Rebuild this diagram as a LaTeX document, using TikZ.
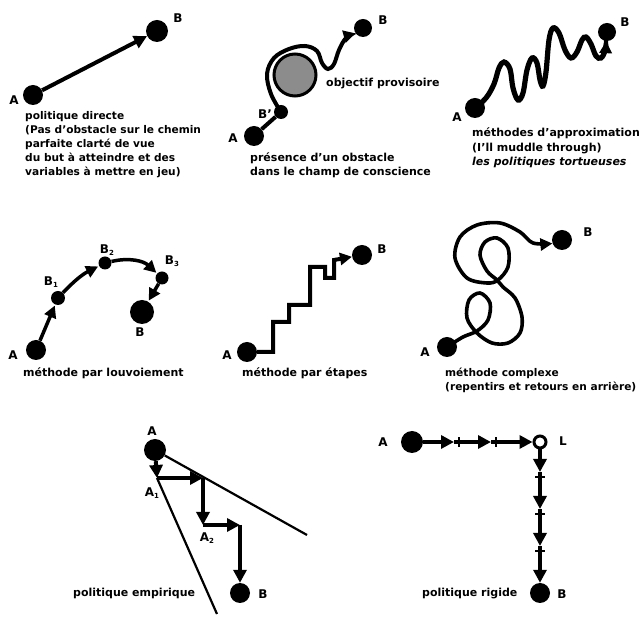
\documentclass[tikz,border=0pt]{standalone}
\usepackage{fontspec}
\setmainfont{DejaVu Sans}
\usetikzlibrary{arrows.meta,decorations.markings}
\newcommand\lsub[1]{\raisebox{-0.35ex}{\fontsize{7}{7}\selectfont #1}}
\begin{document}
\begin{tikzpicture}[x=1pt,y=-1pt,
 ball/.style={circle,fill=black,inner sep=0pt,minimum size=#1},
 txt/.style={anchor=base west,inner sep=0pt,font=\fontsize{11}{14}\selectfont\bfseries},
 smalltxt/.style={txt,font=\fontsize{10.6}{14}\selectfont\bfseries},
 lab/.style={inner sep=0pt,font=\fontsize{12}{12}\selectfont\bfseries},
 road/.style={line width=4pt},
 tip/.style={-{Triangle[length=12pt,width=12pt]}},
 bigtip/.style={-{Triangle[length=13pt,width=13pt]}},
 bartick/.style={line width=2.8pt}
]
\useasboundingbox (0,0) rectangle (641,617);

% ---------- panel 1: politique directe
\node[ball=20pt] (pA) at (33,95) {};
\node[ball=22pt] (pB) at (157,31) {};
\draw[road,bigtip] (pA) -- (pB);
\node[lab] (pAl) at (14,100) {A};
\node[lab] (pBl) at (178,18) {B};
\node[smalltxt] (t11) at (25,120) {politique directe};
\node[smalltxt] (t12) at (25,134) {(Pas d'obstacle sur le chemin};
\node[smalltxt] (t13) at (25,148) {parfaite clarté de vue};
\node[smalltxt] (t14) at (25,162) {du but à atteindre et des};
\node[smalltxt] (t15) at (25,176) {variables à mettre en jeu)};

% ---------- panel 2: obstacle
\node[ball=20pt] (qA) at (254,136) {};
\node[ball=14pt] (qBp) at (281,112) {};
\node[circle,draw=black,line width=3pt,fill=black!45,inner sep=0pt,minimum size=42pt] (qO) at (295,75) {};
\node[ball=18pt] (qB) at (363,28) {};
\draw[road] (qA) -- (qBp);
\draw[road,tip] plot[smooth,tension=0.6] coordinates {(qBp.center) (271,94) (267,74) (274,58) (289,49) (305,46) (317,51) (322,63) (328,69) (334,64) (339,50) (346,38) (qB.215)};
\node[lab] (qAl) at (233,138) {A};
\node[lab] (qBpl) at (265,114) {B'};
\node[lab] (qBl) at (383,20) {B};
\node[txt] (t21) at (326,87) {objectif provisoire};
\node[txt] (t22) at (250,162) {présence d'un obstacle};
\node[txt] (t23) at (250,176) {dans le champ de conscience};

% ---------- panel 3: wave
\node[ball=20pt] (rA) at (475,108) {};
\node[ball=18pt] (rB) at (607,32) {};
\draw[line width=5.2pt,tip] plot[smooth,tension=0.6] coordinates {(rA.center) (486,98) (494,84) (499,68) (504,62) (510,69) (513,88) (518,100) (523,93) (527,70) (532,58) (537,63) (540,80) (543,86) (546,72) (549,40) (553,28) (559,33) (565,50) (571,58) (577,52) (582,40) (586,37) (591,44) (596,56) (601,58) (605,51) (rB.265)};
\node[lab] (rAl) at (457,117) {A};
\node[lab] (rBl) at (625,22) {B};
\node[txt] (t31) at (472,137) {méthodes d'approximation};
\node[txt] (t32) at (472,151.5) {(I'll muddle through)};
\node[txt,font=\fontsize{11}{14}\selectfont\bfseries\itshape] (t33) at (472,166) {les politiques tortueuses};

% ---------- panel 4: louvoiement
\node[ball=20pt] (sA) at (36,350) {};
\node[ball=14pt] (sB1) at (58,298) {};
\node[ball=13pt] (sB2) at (105,263) {};
\node[ball=13pt] (sB3) at (162,278) {};
\node[ball=24pt] (sB) at (142,312) {};
\draw[line width=3.5pt,tip,shorten >=1pt] (sA) -- (sB1);
\draw[line width=3.5pt,tip,shorten >=1pt] (sB1) to[bend left=10] (sB2);
\draw[line width=3.5pt,tip,shorten >=1pt] (sB2) to[bend left=28] (sB3);
\draw[line width=3.5pt,tip,shorten >=1pt] (sB3) -- (sB);
\node[lab] (sAl) at (13,355) {A};
\node[lab] (sB1l) at (51,282) {B\lsub{1}};
\node[lab] (sB2l) at (107,250) {B\lsub{2}};
\node[lab] (sB3l) at (172,261) {B\lsub{3}};
\node[lab] (sBl) at (140,332) {B};
\node[txt] (t41) at (23,377) {méthode par louvoiement};

% ---------- panel 5: étapes
\node[ball=20pt] (uA) at (247,352) {};
\node[ball=20pt] (uB) at (362,255) {};
\draw[road,tip,line join=miter] (uA) -- (273,352) -- (273,322) -- (289,322) -- (289,305) -- (310,305) -- (310,267) -- (325,267) -- (325,278) -- (334,278) -- (334,260) -- (uB);
\node[lab] (uAl) at (227,355) {A};
\node[lab] (uBl) at (382,249) {B};
\node[txt] (t51) at (242,377) {méthode par étapes};

% ---------- panel 6: complexe
\node[ball=20pt] (vA) at (447,347) {};
\node[ball=20pt] (vB) at (562,240) {};
\draw[line width=3.6pt,tip] plot[smooth,tension=0.55] coordinates {(vA.center) (463,337) (477,331) (488,320) (490,303) (480,293) (469,300) (467,318) (477,333) (492,343) (508,343) (520,333) (522,317) (515,298) (503,287) (497,280) (487,271) (480,255) (485,242) (497,238) (508,248) (508,267) (498,280) (487,283) (467,278) (455,258) (460,237) (477,225) (500,223) (520,232) (533,243) (vB.200)};
\node[lab] (vAl) at (425,352) {A};
\node[lab] (vBl) at (588,232) {B};
\node[smalltxt] (t61) at (445,377) {méthode complexe};
\node[smalltxt] (t62) at (445,391) {(repentirs et retours en arrière)};

% ---------- panel 7: empirique
\node[ball=22pt] (wA) at (155,450) {};
\coordinate (wA1) at (157,478);
\coordinate (wc1) at (203,478);
\coordinate (wA2) at (203,525);
\coordinate (wc2) at (240,525);
\node[ball=20pt] (wB) at (240,593) {};
\coordinate (wR) at (307,535);
\coordinate (wL) at (217,614);
\draw[line width=2.2pt] (wA) -- (wR);
\draw[line width=2.2pt] (wA1) -- (wL);
\draw[road,bigtip] (wA) -- (wA1);
\draw[road,bigtip] (wA1) -- (wc1);
\draw[road,bigtip] (wc1) -- (wA2);
\draw[road,bigtip] (wA2) -- (wc2);
\draw[road,bigtip] (wc2) -- (wB);
\node[lab] (wAl) at (152,431) {A};
\node[lab] (wA1l) at (152,493) {A\lsub{1}};
\node[lab] (wA2l) at (207,538) {A\lsub{2}};
\node[lab] (wBl) at (263,594) {B};
\node[txt] (t71) at (73,597) {politique empirique};

% ---------- panel 8: rigide
\node[ball=22pt] (xA) at (412,442) {};
\node[circle,draw=black,fill=white,line width=3pt,inner sep=0pt,minimum size=12pt] (xL) at (540,442) {};
\node[ball=20pt] (xB) at (540,593) {};
\coordinate (xh1) at (454,442);
\coordinate (xh2) at (491,442);
\coordinate (xk1) at (459,442);
\coordinate (xk2) at (496,442);
\coordinate (xv1) at (540,472);
\coordinate (xv2) at (540,509);
\coordinate (xv3) at (540,546);
\coordinate (xm1) at (540,477);
\coordinate (xm2) at (540,514);
\coordinate (xm3) at (540,551);
\draw[road,bigtip] (xA) -- (xh1);
\draw[road,bigtip] (xh1) -- (xh2);
\draw[road,bigtip] (xh2) -- (xL);
\draw[road,bigtip] (xL) -- (xv1);
\draw[road,bigtip] (xv1) -- (xv2);
\draw[road,bigtip] (xv2) -- (xv3);
\draw[road,bigtip] (xv3) -- (xB);
\draw[bartick] ([yshift=-5pt]xk1) -- ([yshift=5pt]xk1);
\draw[bartick] ([yshift=-5pt]xk2) -- ([yshift=5pt]xk2);
\draw[bartick] ([xshift=-5pt]xm1) -- ([xshift=5pt]xm1);
\draw[bartick] ([xshift=-5pt]xm2) -- ([xshift=5pt]xm2);
\draw[bartick] ([xshift=-5pt]xm3) -- ([xshift=5pt]xm3);
\node[lab] (xAl) at (383,442) {A};
\node[lab] (xLl) at (563,441) {L};
\node[lab] (xBl) at (562,594) {B};
\node[txt] (t81) at (422,597) {politique rigide};
\end{tikzpicture}
\end{document}
